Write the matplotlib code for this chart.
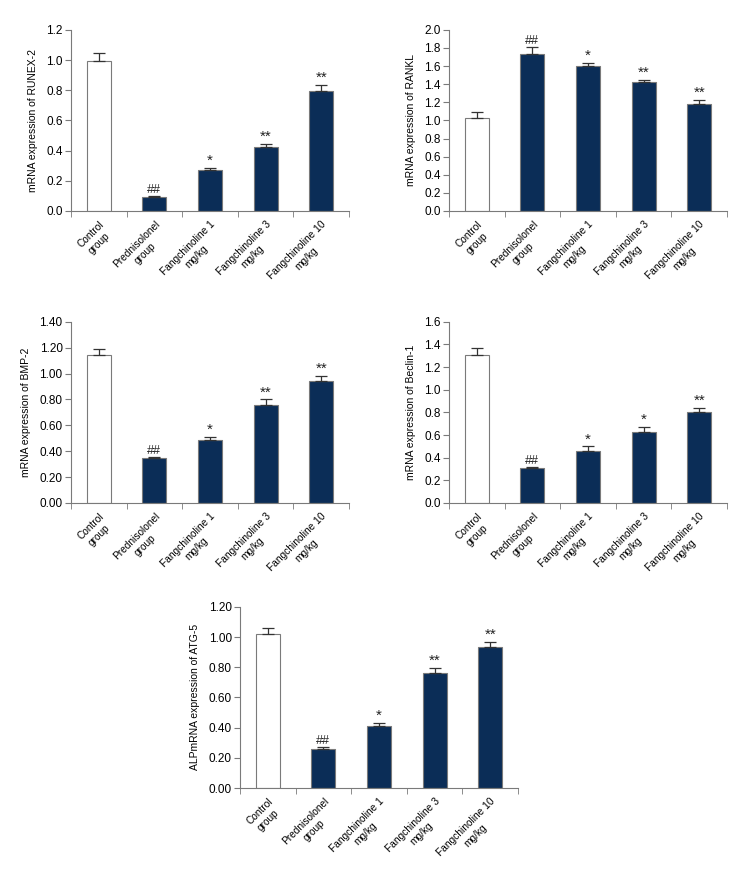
import numpy as np
import matplotlib.pyplot as plt
from matplotlib.transforms import ScaledTranslation

plt.rcParams['font.family'] = ['Liberation Sans', 'DejaVu Sans']

groups = ['Control\ngroup', 'Prednisolonel\ngroup', 'Fangchinoline 1\nmg/kg',
          'Fangchinoline 3\nmg/kg', 'Fangchinoline 10\nmg/kg']
marks = ['', '##', '*', '**', '**']
marks_beclin = ['', '##', '*', '*', '**']

runx = [0.994, 0.093, 0.270, 0.422, 0.796]
runx_err = [0.051, 0.008, 0.013, 0.020, 0.037]
rankl = [1.031, 1.735, 1.600, 1.425, 1.186]
rankl_err = [0.059, 0.081, 0.035, 0.023, 0.037]
bmp = [1.144, 0.344, 0.487, 0.756, 0.942]
bmp_err = [0.049, 0.011, 0.025, 0.044, 0.041]
beclin = [1.310, 0.308, 0.455, 0.630, 0.807]
beclin_err = [0.056, 0.011, 0.045, 0.041, 0.036]
atg = [1.021, 0.260, 0.408, 0.763, 0.931]
atg_err = [0.040, 0.011, 0.024, 0.033, 0.037]

navy = '#0b2d57'
edge = '#7a7a7a'

panels = [
    # left, bottom, values, errors, ylabel, ymax, fmt, marks
    (0.0939, 0.7624, runx, runx_err, 'mRNA expression of RUNEX-2', 1.2, '%.1f', marks),
    (0.5939, 0.7624, rankl, rankl_err, 'mRNA expression of RANKL', 2.0, '%.1f', marks),
    (0.0939, 0.4336, bmp, bmp_err, 'mRNA expression of BMP-2', 1.4, '%.2f', marks),
    (0.5939, 0.4336, beclin, beclin_err, 'mRNA expression of Beclin-1', 1.6, '%.1f', marks_beclin),
    (0.3175, 0.1126, atg, atg_err, 'ALPmRNA expression of ATG-5', 1.2, '%.2f', marks),
]

fig = plt.figure(figsize=(7.56, 8.88), dpi=100)
shift = ScaledTranslation(8 / 100, -1 / 100, fig.dpi_scale_trans)

for left, bottom, vals, errs, ylab, ymax, fmt, mk in panels:
    ax = fig.add_axes([left, bottom, 0.3677, 0.204])
    x = np.arange(len(vals))
    colors = ['white'] + [navy] * (len(vals) - 1)
    ax.bar(x, vals, width=0.43, color=colors, edgecolor=edge, linewidth=0.8, zorder=2)
    ax.errorbar(x, vals, yerr=[np.zeros(len(errs)), errs], fmt='none',
                ecolor='#333333', elinewidth=0.9, capsize=4, capthick=0.9, zorder=3)
    for xi, v, e, m in zip(x, vals, errs, mk):
        if m:
            ax.text(xi, v + e, m, ha='center', va='bottom',
                    fontsize=11 if '*' in m else 9, color='#222222')
    ax.set_xlim(-0.5, len(vals) - 0.5)
    ax.set_ylim(0, ymax)
    ticks = np.arange(0, ymax + 0.1, 0.2)
    ax.set_yticks(ticks)
    ax.set_yticklabels([fmt % t for t in ticks], fontsize=8.5)
    ax.set_xticks(x)
    ax.set_xticklabels(groups, rotation=45, ha='right', va='top', linespacing=1.3,
                       rotation_mode='anchor', fontsize=7.3, multialignment='center')
    for lab in ax.get_xticklabels():
        lab.set_transform(lab.get_transform() + shift)
    ax.tick_params(axis='x', length=0, pad=6)
    ax.set_xticks(np.arange(-0.5, len(vals), 1.0), minor=True)
    ax.tick_params(axis='x', which='minor', length=4, color=edge)
    ax.tick_params(axis='y', length=4, color=edge, pad=2)
    ax.set_ylabel(ylab, fontsize=7.5, labelpad=6)
    for s in ['top', 'right']:
        ax.spines[s].set_visible(False)
    for s in ['left', 'bottom']:
        ax.spines[s].set_color(edge)
        ax.spines[s].set_linewidth(0.8)

fig.savefig('out.png', dpi=100)
